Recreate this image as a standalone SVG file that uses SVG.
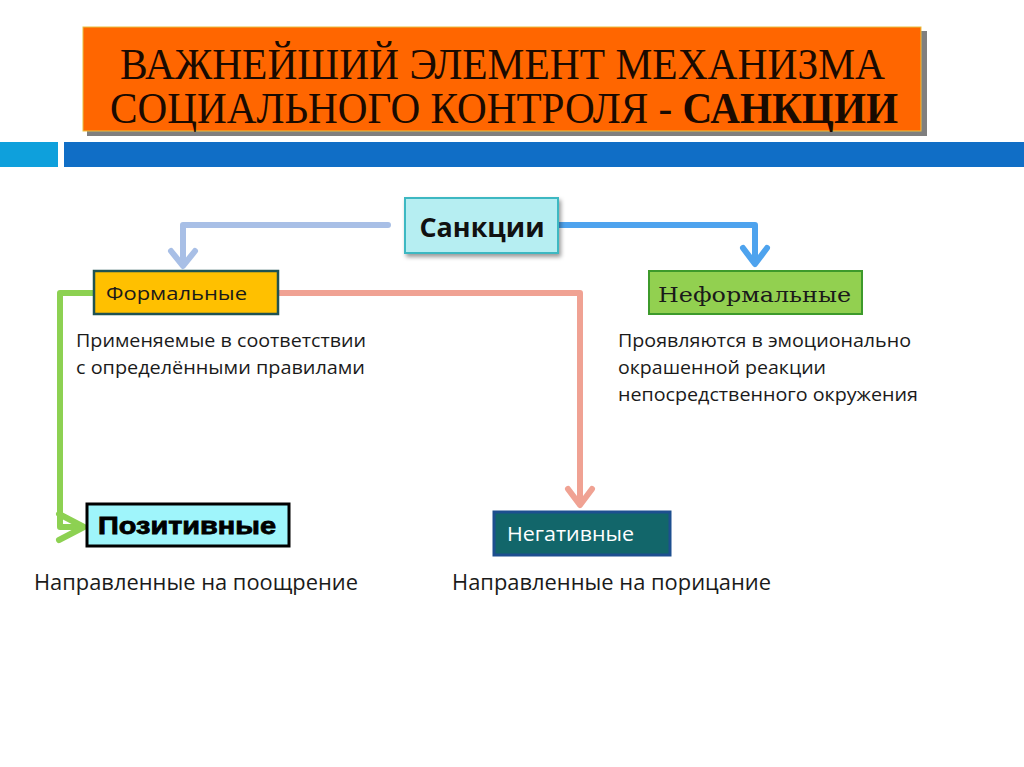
<svg xmlns="http://www.w3.org/2000/svg" width="1024" height="767" viewBox="0 0 1024 767">
<defs>
<filter id="sh" x="-10%" y="-10%" width="130%" height="140%">
<feDropShadow dx="2" dy="3" stdDeviation="2" flood-color="#000" flood-opacity="0.4"/>
</filter>
</defs>
<style>
.body{font-family:"Open Sans","Liberation Sans",sans-serif;font-size:18.5px;fill:#1a1a1a}
.bot{font-family:"Open Sans","Liberation Sans",sans-serif;font-size:21px;fill:#1a1a1a}
.title{font-family:"Liberation Serif","Times New Roman",serif;font-size:44px;fill:#1a0a00}
.conn{fill:none;stroke-width:6;stroke-linejoin:round;stroke-linecap:round}
</style>
<rect width="1024" height="767" fill="#fff"/>
<g id="header">
<rect x="87" y="31" width="840" height="105" fill="#7f7f7f"/>
<rect x="83" y="27" width="838" height="104" fill="#ff6600" stroke="#e8c040" stroke-width="1"/>
<text class="title" x="120" y="79" textLength="765" lengthAdjust="spacingAndGlyphs">ВАЖНЕЙШИЙ ЭЛЕМЕНТ МЕХАНИЗМА</text>
<text class="title" x="110" y="123" textLength="788" lengthAdjust="spacingAndGlyphs">СОЦИАЛЬНОГО КОНТРОЛЯ - <tspan font-weight="bold">САНКЦИИ</tspan></text>
<rect x="0" y="142" width="58" height="25" fill="#0ea0dc"/>
<rect x="64" y="142" width="960" height="25" fill="#106ec6"/>
</g>
<g id="connectors">
<path class="conn" stroke="#a8bfe6" d="M388,225 H183 V264"/>
<polyline class="conn" stroke="#a8bfe6" points="171,251 183,266 195,251"/>
<path class="conn" stroke="#4ea3ee" d="M558,225 H755 V262"/>
<polyline class="conn" stroke="#4ea3ee" points="743,248 755,264 767,248"/>
<path class="conn" stroke="#f0a293" stroke-width="5" d="M278,293 H580 V504"/>
<polyline class="conn" stroke="#f0a293" points="568,489 580,505 592,489"/>
<path class="conn" stroke="#8dd152" stroke-width="5" d="M94,293 H60 V527 H82"/>
<polyline class="conn" stroke="#8dd152" points="59,514 84,527 59,540"/>
</g>
<g id="sankcii">
<rect x="405" y="198" width="153" height="55" fill="#b6eef2" stroke="#3db8c2" stroke-width="2" filter="url(#sh)"/>
<text x="482" y="237" text-anchor="middle" font-family="'Open Sans','Liberation Sans',sans-serif" font-size="26" font-weight="bold" fill="#111" textLength="125" lengthAdjust="spacingAndGlyphs">Санкции</text>
</g>
<g id="formal">
<rect x="94" y="271" width="184" height="43" fill="#ffc000" stroke="#1f5252" stroke-width="2.5"/>
<text x="106" y="300" font-family="'Open Sans','Liberation Sans',sans-serif" font-size="19" fill="#1a1a1a" textLength="141" lengthAdjust="spacingAndGlyphs">Формальные</text>
<text class="body" x="76" y="347" textLength="290" lengthAdjust="spacingAndGlyphs">Применяемые в соответствии</text>
<text class="body" x="76" y="374" textLength="289" lengthAdjust="spacingAndGlyphs">с определёнными правилами</text>
</g>
<g id="neformal">
<rect x="649" y="271" width="213" height="43" fill="#92d050" stroke="#3d9a2b" stroke-width="2"/>
<text x="658" y="302" font-family="'DejaVu Serif','Liberation Serif',serif" font-size="21" fill="#1a1a1a" textLength="193" lengthAdjust="spacingAndGlyphs">Неформальные</text>
<text class="body" x="618" y="347" textLength="293" lengthAdjust="spacingAndGlyphs">Проявляются в эмоционально</text>
<text class="body" x="618" y="374" textLength="208" lengthAdjust="spacingAndGlyphs">окрашенной реакции</text>
<text class="body" x="618" y="401" textLength="300" lengthAdjust="spacingAndGlyphs">непосредственного окружения</text>
</g>
<g id="positive">
<rect x="87" y="504" width="202" height="42" fill="#9ff5fb" stroke="#000" stroke-width="3"/>
<text x="98" y="534" font-family="'Liberation Sans',Arial,sans-serif" font-size="24" font-weight="900" fill="#000" stroke="#000" stroke-width="0.8" textLength="178" lengthAdjust="spacingAndGlyphs">Позитивные</text>
<text class="bot" x="34" y="590" textLength="324" lengthAdjust="spacingAndGlyphs">Направленные на поощрение</text>
</g>
<g id="negative">
<rect x="494" y="512" width="176" height="43" fill="#12666a" stroke="#1d4f8f" stroke-width="3"/>
<text x="507" y="541" font-family="'Open Sans','Liberation Sans',sans-serif" font-size="19.5" fill="#fff" textLength="127" lengthAdjust="spacingAndGlyphs">Негативные</text>
<text class="bot" x="452" y="590" textLength="319" lengthAdjust="spacingAndGlyphs">Направленные на порицание</text>
</g>
</svg>
